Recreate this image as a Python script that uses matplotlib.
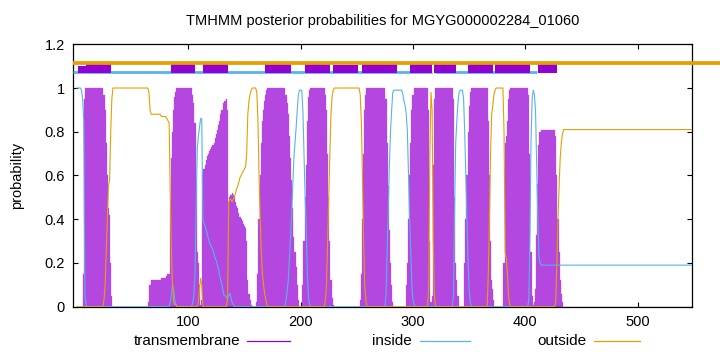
import numpy as np
import matplotlib
matplotlib.use("Agg")
import matplotlib.pyplot as plt
from matplotlib.lines import Line2D

plt.rcParams['font.family'] = ['Liberation Sans', 'DejaVu Sans']

TITLE = "TMHMM posterior probabilities for MGYG000002284_01060"

# posterior probabilities per residue (residues 1..548)
tm_prob = ([0.0] * 6 + [0.15, 0.95] + [1.0] * 16
           + [0.97, 0.9, 0.75, 0.6, 0.45, 0.42, 0.2, 0.05]
           + [0.0] * 32 + [0.02, 0.1] + [0.12] * 9 + [0.13] * 5 + [0.14, 0.15, 0.15]
           + [0.45, 0.68, 0.8, 0.9, 0.96, 0.98] + [1.0] * 14
           + [0.97, 0.93, 0.84, 0.55, 0.25, 0.2, 0.1, 0.01, 0.03]
           + [0.6, 0.63, 0.65, 0.67, 0.69, 0.7, 0.71, 0.72, 0.73, 0.74, 0.75, 0.77,
              0.79, 0.81, 0.83, 0.85, 0.88, 0.9, 0.93, 0.94, 0.94, 0.95, 0.9, 0.48]
           + [0.5, 0.51, 0.52, 0.51, 0.5, 0.48, 0.46, 0.45, 0.43, 0.41, 0.4, 0.39,
              0.38, 0.37, 0.36, 0.3, 0.12, 0.06, 0.03, 0.01]
           + [0.0] * 4 + [0.02]
           + [0.15, 0.4, 0.6, 0.75, 0.85, 0.9, 0.94, 0.97, 0.99] + [1.0] * 16
           + [0.97, 0.93, 0.88, 0.78, 0.68, 0.58, 0.45, 0.32, 0.25, 0.18, 0.1, 0.03]
           + [0.0] * 3 + [0.1, 0.3, 0.5, 0.65, 0.85, 0.96, 0.99] + [1.0] * 13
           + [0.97, 0.9, 0.7, 0.5, 0.3, 0.12, 0.04, 0.01]
           + [0.0] * 23 + [0.03, 0.15, 0.4, 0.7, 0.9, 0.97] + [1.0] * 17
           + [0.95, 0.75, 0.55, 0.35, 0.2, 0.1, 0.02]
           + [0.0] * 11 + [0.1, 0.2, 0.4, 0.6, 0.75, 0.9, 0.97] + [1.0] * 13
           + [0.9, 0.3, 0.02] + [0.05, 0.65, 0.95] + [1.0] * 16
           + [0.95, 0.5, 0.2, 0.12, 0.05, 0.0]
           + [0.0] * 4 + [0.2, 0.4, 0.6, 0.8, 0.92, 0.98] + [1.0] * 15
           + [0.85, 0.6, 0.3, 0.12, 0.08, 0.03]
           + [0.0] * 8 + [0.2, 0.75, 0.78, 0.85, 0.95, 0.99] + [1.0] * 16
           + [0.97, 0.7, 0.25, 0.05, 0.01] + [0.02, 0.08, 0.33, 0.56, 0.74, 0.8]
           + [0.81] * 13 + [0.78, 0.6, 0.4, 0.25, 0.12, 0.06, 0.02]
           + [0.0] * 115)

inside_prob = ([1.0] * 4 + [0.99, 0.95, 0.85, 0.05, 0.01] + [0.0] * 74
               + [0.02, 0.05, 0.1, 0.08, 0.03, 0.01] + [0.0] * 14
               + [0.02, 0.05, 0.15, 0.45, 0.72, 0.78, 0.82, 0.86, 0.86]
               + [0.40, 0.38, 0.37, 0.35, 0.33, 0.31, 0.29, 0.28, 0.27, 0.26, 0.24, 0.22,
                  0.21, 0.19, 0.17, 0.14, 0.12, 0.1, 0.07, 0.05, 0.05, 0.04, 0.04, 0.05,
                  0.06, 0.04, 0.02, 0.01]
               + [0.0] * 46
               + [0.03, 0.07, 0.12, 0.22, 0.32, 0.42, 0.55, 0.68, 0.75, 0.82, 0.9, 0.97,
                  0.99, 0.99, 0.99]
               + [0.9, 0.7, 0.5, 0.35, 0.15, 0.04, 0.01] + [0.0] * 67
               + [0.05, 0.25, 0.45, 0.65, 0.8, 0.9, 0.98] + [0.99] * 8
               + [0.97, 0.94, 0.92, 0.88, 0.8, 0.6, 0.4, 0.25, 0.1, 0.03, 0.01]
               + [0.0] * 34
               + [0.05, 0.45, 0.75, 0.85, 0.93, 0.98, 0.99, 0.99, 0.99, 0.95, 0.8, 0.6,
                  0.4, 0.2, 0.08, 0.02]
               + [0.0] * 51
               + [0.03, 0.3, 0.75, 0.95, 0.99, 0.97, 0.9, 0.65, 0.42, 0.24, 0.2]
               + [0.19] * 135)

outside_prob = ([0.0] * 24 + [0.03, 0.1, 0.25, 0.4, 0.55, 0.58, 0.8, 0.95]
                + [1.0] * 32 + [0.98, 0.9] + [0.88] * 9 + [0.87] * 5 + [0.86, 0.85, 0.84]
                + [0.5, 0.25, 0.1, 0.02, 0.01, 0.01] + [0.0] * 19
                + [0.02, 0.08, 0.13, 0.1, 0.0] + [0.0] * 21
                + [0.04, 0.48, 0.49, 0.49, 0.48, 0.49, 0.5, 0.52, 0.54, 0.55, 0.57, 0.59,
                   0.6, 0.61, 0.62, 0.63, 0.64, 0.7, 0.88, 0.94, 0.97, 0.99]
                + [1.0] * 4 + [0.98, 0.85, 0.6, 0.4, 0.25, 0.15, 0.1, 0.06, 0.03, 0.01]
                + [0.0] * 51 + [0.03, 0.1, 0.3, 0.5, 0.7, 0.88, 0.96, 0.99]
                + [1.0] * 23 + [0.97, 0.85, 0.6, 0.3, 0.1, 0.03]
                + [0.0] * 55 + [0.1, 0.7, 0.98, 0.9, 0.3, 0.05]
                + [0.0] * 47 + [0.15, 0.4, 0.7, 0.88, 0.92, 0.97, 0.99]
                + [1.0] * 7 + [0.8, 0.25, 0.22, 0.15, 0.05, 0.01]
                + [0.0] * 40 + [0.02, 0.2, 0.4, 0.55, 0.68, 0.75, 0.79]
                + [0.81] * 115)

residues = np.arange(1, len(tm_prob) + 1)
assert len(tm_prob) == len(inside_prob) == len(outside_prob) == 548

# topology strip at the top
tm_segments = [(9.0, 31.0), (84.4, 106.3), (113.4, 135.4), (168.6, 191.2),
               (204.2, 226.2), (229.1, 251.4), (254.4, 285.5), (297.4, 316.7),
               (318.7, 338.3), (349.3, 371.5), (373.0, 404.2), (411.0, 427.9)]
tm_tops = [1.116, 1.116, 1.116, 1.116, 1.116, 1.105, 1.116, 1.116,
           1.116, 1.116, 1.116, 1.116]
tm_small = [(1.6, 9.0)]
inside_segments = [(-2.3, 317.0), (319.5, 410.5)]
outside_segments = [(-2.3, 600.0)]

C_TM = '#9400d3'
C_TM_BAR = '#b447e0'
C_IN = '#56b4e9'
C_OUT = '#e69f00'

fig = plt.figure(figsize=(7.2, 3.52), dpi=100)
ax = fig.add_axes([0.1018, 0.1287, 0.8589, 0.7455])

ax.bar(residues, tm_prob, width=1.0, color=C_TM_BAR, edgecolor=C_TM_BAR,
       linewidth=0.2, zorder=2)
ax.plot(residues, inside_prob, color=C_IN, lw=0.8, zorder=3)
ax.plot(residues, outside_prob, color=C_OUT, lw=0.8, zorder=3)

for a, b in inside_segments:
    ax.plot([a, b], [1.073, 1.073], color=C_IN, lw=2.0, solid_capstyle='butt',
            clip_on=False, zorder=4)
for (a, b), top in zip(tm_segments, tm_tops):
    ax.fill_between([a, b], 1.067, top, color=C_TM, linewidth=0, clip_on=False, zorder=5)
for a, b in tm_small:
    ax.fill_between([a, b], 1.067, 1.10, color=C_TM, linewidth=0, clip_on=False, zorder=5)
for a, b in outside_segments:
    ax.plot([a, b], [1.114, 1.114], color=C_OUT, lw=2.7, solid_capstyle='butt',
            clip_on=False, zorder=6)

ax.set_xlim(-2.3, 548)
ax.set_ylim(0, 1.2)
ax.set_xticks([100, 200, 300, 400, 500])
ax.set_yticks([0, 0.2, 0.4, 0.6, 0.8, 1.0, 1.2])
ax.set_yticklabels(['0', '0.2', '0.4', '0.6', '0.8', '1', '1.2'])
ax.tick_params(direction='in', top=True, right=True, length=3.5, width=0.8,
               labelsize=10.5, pad=6)
for s in ax.spines.values():
    s.set_linewidth(0.9)

ax.set_title(TITLE, fontsize=10.5, pad=14)
fig.text(0.024, 0.503, 'probability', rotation=90, ha='center', va='center', fontsize=10.5)

# key along the bottom
key = [('transmembrane', C_TM, 0.3333, 0.343, 0.403),
       ('inside', C_IN, 0.572, 0.583, 0.653),
       ('outside', C_OUT, 0.815, 0.825, 0.889)]
for label, col, tx, l0, l1 in key:
    fig.text(tx, 0.031, label, ha='right', va='center', fontsize=11)
    fig.add_artist(Line2D([l0, l1], [0.031, 0.031], color=col, lw=0.9,
                          transform=fig.transFigure))

fig.savefig('out.png', dpi=100)
